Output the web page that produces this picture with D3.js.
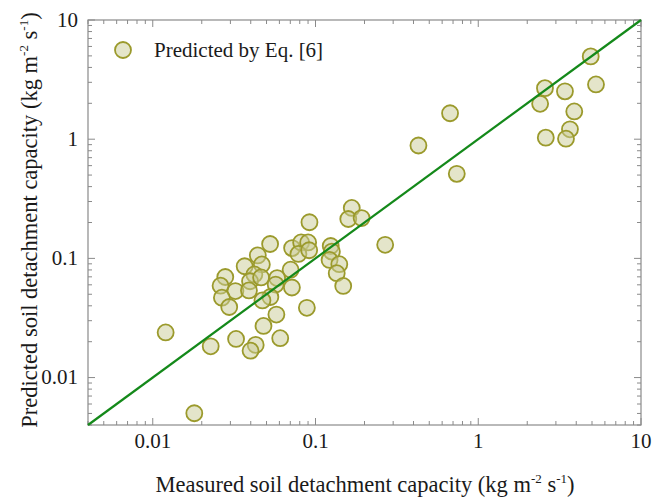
<!DOCTYPE html>
<html><head><meta charset="utf-8">
<script src="https://cdn.jsdelivr.net/npm/d3@7"></script>
<style>
body{margin:0;background:#fff;}
text{font-family:"Liberation Serif","Times New Roman",serif;fill:#1a1a1a;}
</style></head>
<body><svg id="c" width="654" height="498"></svg>
<script>
// Measured (x) and predicted (y) soil detachment capacity, kg m-2 s-1
const measured = [4.91,2.57,3.41,5.29,2.40,3.89,3.66,2.60,3.46,0.671,0.429,0.738,0.268,
  0.167,0.159,0.192,0.0918,0.0526,0.0718,0.0816,0.0901,0.0785,0.0914,0.124,0.126,0.122,0.140,0.135,0.148,
  0.0442,0.0367,0.0468,0.0703,0.0279,0.0261,0.0421,0.0396,0.0463,0.0581,0.0569,0.0322,0.0390,0.0716,
  0.0266,0.0528,0.0295,0.0472,0.0885,0.0575,0.0479,0.0325,0.0607,0.0429,0.0399,0.0227,0.0120,0.0180];
const predicted = [4.95,2.68,2.52,2.88,1.98,1.71,1.21,1.03,1.01,1.65,0.885,0.512,0.130,
  0.265,0.214,0.218,0.201,0.132,0.122,0.136,0.136,0.109,0.117,0.127,0.114,0.0970,0.0894,0.0751,0.0587,
  0.106,0.0859,0.0889,0.0804,0.0698,0.0590,0.0733,0.0643,0.0692,0.0684,0.0603,0.0532,0.0538,0.0570,
  0.0468,0.0474,0.0391,0.0444,0.0385,0.0338,0.0271,0.0211,0.0214,0.0188,0.0168,0.0183,0.0239,0.00502];
const axisDomain = [0.004, 10];
const majorTicks = [0.01, 0.1, 1, 10];
const tickLabels = ["0.01", "0.1", "1", "10"];
const legendLabel = "Predicted by Eq. [6]";
const lineX = [0.004, 10];

const svg = d3.select("#c");
const L = 88, R = 641, T = 20, B = 425;
const x = d3.scaleLog().domain(axisDomain).range([L, R]);
const y = d3.scaleLog().domain(axisDomain).range([B, T]);

// minor ticks
const minor = [];
for (let e = -3; e <= 1; e++) for (let k = 1; k <= 9; k++) {
  const v = k * Math.pow(10, e);
  if (v >= axisDomain[0] - 1e-12 && v <= axisDomain[1] + 1e-12) minor.push(v);
}
const isMajor = v => majorTicks.some(m => Math.abs(m - v) / m < 1e-9);
const axisCol = "#8a8a8a";

svg.append("rect").attr("x", L).attr("y", T).attr("width", R - L).attr("height", B - T)
  .attr("fill", "none").attr("stroke", axisCol).attr("stroke-width", 1.2);

const tg = svg.append("g").attr("stroke", axisCol).attr("stroke-width", 1);
minor.forEach(v => {
  const len = isMajor(v) ? 7 : 4;
  const px = x(v), py = y(v);
  tg.append("line").attr("x1", px).attr("x2", px).attr("y1", B).attr("y2", B - len);
  tg.append("line").attr("x1", px).attr("x2", px).attr("y1", T).attr("y2", T + len);
  tg.append("line").attr("y1", py).attr("y2", py).attr("x1", L).attr("x2", L + len);
  tg.append("line").attr("y1", py).attr("y2", py).attr("x1", R).attr("x2", R - len);
});

majorTicks.forEach((v, i) => {
  svg.append("text").attr("x", x(v)).attr("y", 448).attr("text-anchor", "middle")
    .attr("font-size", 21).text(tickLabels[i]);
  svg.append("text").attr("x", 78).attr("y", y(v)).attr("dy", "0.33em").attr("text-anchor", "end")
    .attr("font-size", 21).text(tickLabels[i]);
});

const pts = measured.map((m, i) => ({ m, p: predicted[i] }));
svg.append("g").selectAll("circle").data(pts).join("circle")
  .attr("cx", d => x(d.m)).attr("cy", d => y(d.p)).attr("r", 8)
  .attr("fill", "#c9cc96").attr("fill-opacity", 0.5)
  .attr("stroke", "#9b9a2c").attr("stroke-width", 1.8);

svg.append("line").attr("x1", x(lineX[0])).attr("y1", y(lineX[0]))
  .attr("x2", x(lineX[1])).attr("y2", y(lineX[1]))
  .attr("stroke", "#14891a").attr("stroke-width", 2.2);

svg.append("circle").attr("cx", 123).attr("cy", 50).attr("r", 8)
  .attr("fill", "#c9cc96").attr("fill-opacity", 0.5)
  .attr("stroke", "#9b9a2c").attr("stroke-width", 1.8);
svg.append("text").attr("x", 154).attr("y", 57).attr("font-size", 21).text(legendLabel);

function unitLabel(sel) {
  sel.append("tspan").text("(kg m");
  sel.append("tspan").attr("font-size", 13).attr("dy", -9).text("-2");
  sel.append("tspan").attr("dy", 9).text(" s");
  sel.append("tspan").attr("font-size", 13).attr("dy", -9).text("-1");
  sel.append("tspan").attr("dy", 9).text(")");
}
const xt = svg.append("text").attr("x", 365).attr("y", 492).attr("text-anchor", "middle").attr("font-size", 22.5);
xt.append("tspan").text("Measured soil detachment capacity ");
unitLabel(xt);
const yt = svg.append("text").attr("transform", "translate(37,220) rotate(-90)")
  .attr("text-anchor", "middle").attr("font-size", 22.5);
yt.append("tspan").text("Predicted soil detachment capacity ");
unitLabel(yt);
</script></body></html>
